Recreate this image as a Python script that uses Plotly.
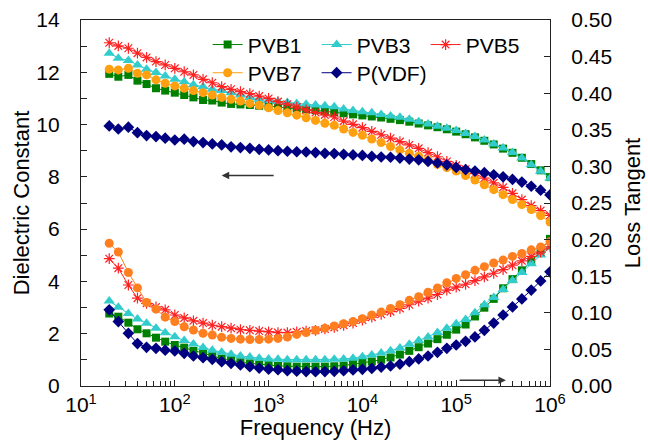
import plotly.graph_objects as go

# Measurement frequencies (Hz), 10 points per decade
freq = [20, 25, 32, 40, 50, 63, 79,
        100, 126, 158, 200, 251, 316, 398, 501, 631, 794,
        1000, 1259, 1585, 1995, 2512, 3162, 3981, 5012, 6310, 7943,
        10000, 12589, 15849, 19953, 25119, 31623, 39811, 50119, 63096, 79433,
        100000, 125893, 158489, 199526, 251189, 316228, 398107, 501187, 630957, 794328,
        1000000]

# Dielectric constant (left axis)
eps_pvb1 = [11.94, 11.83, 11.90, 11.68, 11.55, 11.39, 11.30, 11.22, 11.13, 11.04,
            10.94, 10.92, 10.84, 10.79, 10.77, 10.75, 10.72, 10.70, 10.67, 10.64,
            10.61, 10.58, 10.55, 10.51, 10.47, 10.43, 10.39, 10.35, 10.31, 10.27,
            10.22, 10.17, 10.11, 10.04, 9.97, 9.90, 9.82, 9.73, 9.63, 9.51,
            9.38, 9.24, 9.08, 8.92, 8.73, 8.49, 8.25, 7.99]
eps_pvb3 = [12.73, 12.54, 12.45, 12.28, 12.12, 11.99, 11.86, 11.73, 11.64, 11.52,
            11.45, 11.35, 11.30, 11.22, 11.13, 11.04, 10.97, 10.92, 10.88, 10.84,
            10.81, 10.78, 10.75, 10.72, 10.68, 10.60, 10.54, 10.49, 10.45, 10.39,
            10.33, 10.28, 10.20, 10.11, 10.02, 9.94, 9.86, 9.77, 9.66, 9.54,
            9.41, 9.26, 9.10, 8.93, 8.72, 8.46, 8.21, 7.95]
eps_pvb5 = [13.13, 13.01, 12.92, 12.73, 12.57, 12.41, 12.28, 12.15, 12.02, 11.90,
            11.73, 11.60, 11.45, 11.35, 11.26, 11.18, 11.09, 11.00, 10.88, 10.78,
            10.67, 10.56, 10.46, 10.37, 10.29, 10.13, 10.01, 9.88, 9.74, 9.61,
            9.48, 9.35, 9.22, 9.09, 8.93, 8.77, 8.59, 8.44, 8.29, 8.12,
            7.95, 7.77, 7.60, 7.37, 7.13, 6.90, 6.71, 6.53]
eps_pvb7 = [12.12, 12.09, 12.15, 11.96, 11.90, 11.71, 11.58, 11.48, 11.39, 11.30,
            11.22, 11.13, 11.04, 10.97, 10.90, 10.81, 10.74, 10.64, 10.54, 10.45,
            10.36, 10.26, 10.16, 10.05, 9.97, 9.83, 9.70, 9.59, 9.45, 9.31,
            9.16, 9.03, 8.90, 8.79, 8.65, 8.48, 8.36, 8.22, 8.05, 7.88,
            7.70, 7.51, 7.32, 7.13, 6.94, 6.75, 6.52, 6.27]
eps_pvdf = [9.95, 9.83, 9.90, 9.69, 9.58, 9.54, 9.48, 9.41, 9.44, 9.35,
            9.31, 9.26, 9.22, 9.15, 9.12, 9.09, 9.05, 9.03, 9.00, 8.98,
            8.96, 8.95, 8.93, 8.90, 8.89, 8.86, 8.84, 8.82, 8.78, 8.76,
            8.75, 8.72, 8.68, 8.65, 8.59, 8.53, 8.46, 8.36, 8.28, 8.22,
            8.16, 8.08, 8.00, 7.90, 7.80, 7.64, 7.49, 7.31]

# Loss tangent (right axis)
tan_pvb1 = [0.099, 0.0947, 0.0865, 0.0775, 0.072, 0.066, 0.0606, 0.056, 0.0524, 0.048,
            0.0445, 0.041, 0.0375, 0.0355, 0.0325, 0.031, 0.0295, 0.0285, 0.0275, 0.027,
            0.0265, 0.0265, 0.0265, 0.0265, 0.027, 0.028, 0.030, 0.0315, 0.0335, 0.036,
            0.039, 0.043, 0.048, 0.053, 0.058, 0.064, 0.070, 0.077, 0.084, 0.095,
            0.107, 0.119, 0.1335, 0.146, 0.158, 0.170, 0.185, 0.201]
tan_pvb3 = [0.116, 0.1075, 0.099, 0.0915, 0.0856, 0.0788, 0.0728, 0.0674, 0.062, 0.0574,
            0.0525, 0.049, 0.046, 0.0435, 0.041, 0.0395, 0.038, 0.037, 0.0365, 0.036,
            0.036, 0.036, 0.036, 0.036, 0.0365, 0.037, 0.038, 0.040, 0.0425, 0.045,
            0.048, 0.052, 0.057, 0.062, 0.067, 0.073, 0.079, 0.085, 0.091, 0.100,
            0.111, 0.121, 0.132, 0.144, 0.155, 0.167, 0.179, 0.190]
tan_pvb5 = [0.174, 0.161, 0.138, 0.120, 0.113, 0.108, 0.104, 0.097, 0.093, 0.089,
            0.086, 0.083, 0.081, 0.079, 0.077, 0.076, 0.075, 0.074, 0.073, 0.073,
            0.074, 0.075, 0.076, 0.078, 0.080, 0.083, 0.086, 0.090, 0.094, 0.098,
            0.1015, 0.106, 0.111, 0.116, 0.120, 0.125, 0.131, 0.135, 0.139, 0.144,
            0.149, 0.154, 0.159, 0.165, 0.171, 0.177, 0.183, 0.190]
tan_pvb7 = [0.195, 0.183, 0.155, 0.134, 0.114, 0.105, 0.094, 0.088, 0.081, 0.0765,
            0.072, 0.0697, 0.0665, 0.065, 0.064, 0.0635, 0.0635, 0.064, 0.065, 0.067,
            0.0705, 0.073, 0.076, 0.079, 0.082, 0.085, 0.088, 0.092, 0.097, 0.101,
            0.106, 0.111, 0.117, 0.122, 0.128, 0.134, 0.141, 0.147, 0.152, 0.158,
            0.163, 0.168, 0.172, 0.177, 0.181, 0.186, 0.190, 0.197]
tan_pvdf = [0.104, 0.088, 0.072, 0.058, 0.0528, 0.0515, 0.049, 0.0478, 0.0447, 0.041,
            0.0387, 0.0364, 0.0332, 0.031, 0.0287, 0.0264, 0.0245, 0.023, 0.0222, 0.021,
            0.0202, 0.0197, 0.0195, 0.0197, 0.020, 0.021, 0.0219, 0.0228, 0.024, 0.0258,
            0.0273, 0.030, 0.0332, 0.037, 0.041, 0.046, 0.0515, 0.056, 0.061, 0.067,
            0.076, 0.086, 0.097, 0.108, 0.119, 0.131, 0.1435, 0.156]

x_major = [10, 100, 1000, 10000, 100000, 1000000]
x_major_text = ["10<sup>1</sup>", "10<sup>2</sup>", "10<sup>3</sup>",
                "10<sup>4</sup>", "10<sup>5</sup>", "10<sup>6</sup>"]
x_minor = [m * d for d in [10, 100, 1000, 10000, 100000] for m in range(2, 10)]

FONT = "Liberation Sans, Arial, sans-serif"

series = [
    # name, eps, tan, color(eps), color(tan), symbol, size, legend
    ("PVB1", eps_pvb1, tan_pvb1, "#008000", "#008000", "square", 8, "legend"),
    ("PVB3", eps_pvb3, tan_pvb3, "#33CCCC", "#33CCCC", "triangle-up", 10, "legend"),
    ("PVB5", eps_pvb5, tan_pvb5, "#FF2020", "#FF2020", "asterisk-open", 9, "legend"),
    ("PVB7", eps_pvb7, tan_pvb7, "#FFA010", "#FF7F20", "circle", 9, "legend2"),
    ("P(VDF)", eps_pvdf, tan_pvdf, "#000080", "#000080", "diamond", 9, "legend2"),
]

fig = go.Figure()
for name, eps, tan, c1, c2, sym, sz, lg in series:
    is_star = sym.startswith("asterisk")
    mk1 = dict(symbol=sym, size=sz, color=c1,
               line=dict(color=c1, width=1.2 if is_star else 0))
    mk2 = dict(symbol=sym, size=sz, color=c2,
               line=dict(color=c2, width=1.2 if is_star else 0))
    fig.add_trace(go.Scatter(x=freq, y=eps, name=name, mode="lines+markers",
                             line=dict(color=c1, width=1), marker=mk1,
                             legend=lg, legendgroup=name, yaxis="y"))
    fig.add_trace(go.Scatter(x=freq, y=tan, name=name, mode="lines+markers",
                             line=dict(color=c2, width=1), marker=mk2,
                             showlegend=False, legendgroup=name, yaxis="y2"))

axis_common = dict(showline=True, linecolor="#222", linewidth=1.3, ticks="inside",
                   ticklen=6, tickcolor="#222", tickwidth=1, showgrid=False,
                   zeroline=False, automargin=False,
                   tickfont=dict(family=FONT, size=21, color="black"))

fig.update_layout(
    template="none",
    width=648, height=440,
    margin=dict(l=81, r=98, t=20, b=54),
    paper_bgcolor="white", plot_bgcolor="white",
    font=dict(family=FONT, size=21, color="black"),
    xaxis=dict(type="log", range=[1, 6], tickmode="array", tickvals=x_major,
               ticktext=x_major_text, mirror=True, ticklabelstandoff=0,
               minor=dict(tickmode="array", tickvals=x_minor, ticks="inside",
                          ticklen=5, tickcolor="#222", showgrid=False),
               title=dict(text="Frequency (Hz)", standoff=6,
                          font=dict(family=FONT, size=22)),
               **axis_common),
    yaxis=dict(range=[0, 14], dtick=2, ticklabelstandoff=16,
               minor=dict(dtick=1, ticks="inside", ticklen=6, tickcolor="#222",
                          showgrid=False),
               title=dict(text="Dielectric Constant", standoff=0,
                          font=dict(family=FONT, size=22)),
               **axis_common),
    yaxis2=dict(range=[0, 0.5], dtick=0.05, tickformat=".2f", overlaying="y",
                side="right", ticklabelstandoff=16,
                title=dict(text="Loss Tangent", standoff=13,
                           font=dict(family=FONT, size=22)),
                **axis_common),
    legend=dict(orientation="h", x=0.27, y=0.932, xanchor="left", yanchor="middle",
                bgcolor="rgba(0,0,0,0)", entrywidth=64, tracegroupgap=0,
                font=dict(family=FONT, size=21)),
    legend2=dict(orientation="h", x=0.27, y=0.855, xanchor="left", yanchor="middle",
                 bgcolor="rgba(0,0,0,0)", entrywidth=64, tracegroupgap=0,
                 font=dict(family=FONT, size=21)),
    annotations=[
        dict(x=2.5, y=8.05, xref="x", yref="y", ax=3.07, ay=8.05, axref="x", ayref="y",
             text="", showarrow=True, arrowhead=2, arrowsize=1, arrowwidth=1.5,
             arrowcolor="#333"),
        dict(x=5.53, y=0.008, xref="x", yref="y2", ax=5.02, ay=0.008, axref="x",
             ayref="y2", text="", showarrow=True, arrowhead=2, arrowsize=1,
             arrowwidth=1.5, arrowcolor="#333"),
    ],
)

fig.write_html("out.html")
